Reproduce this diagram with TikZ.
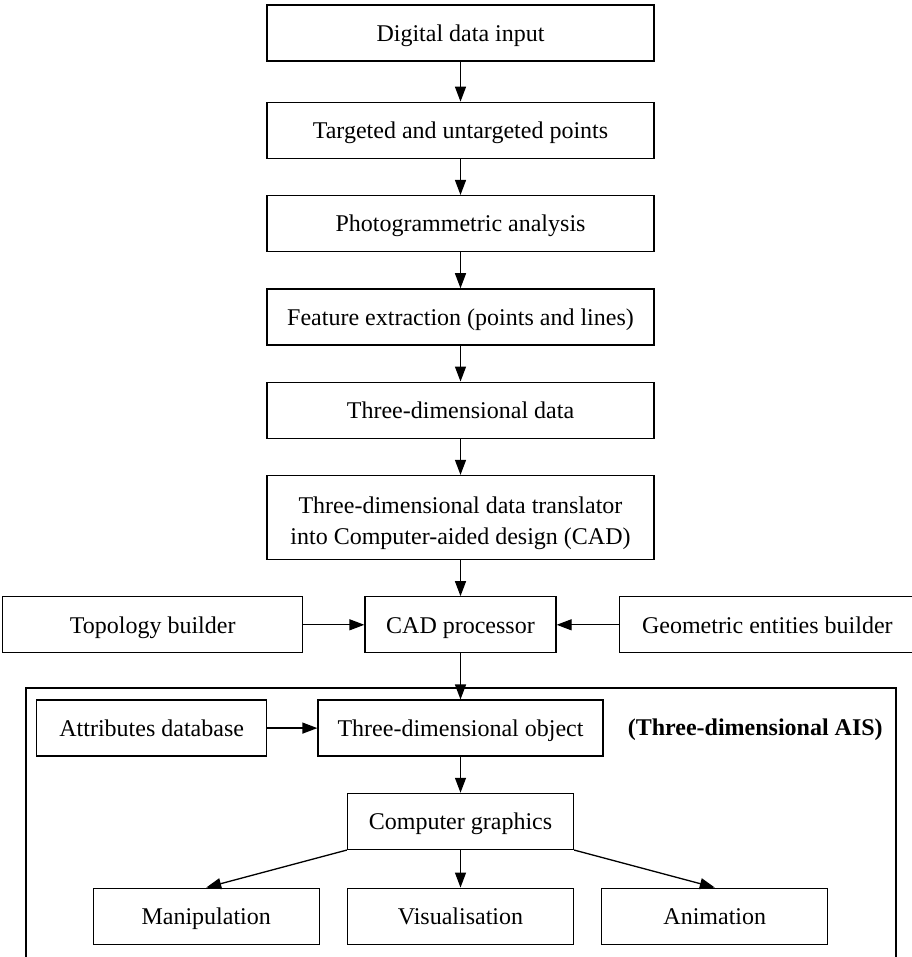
\documentclass[tikz,border=0pt]{standalone}
\usepackage{fontspec}
\setmainfont{Liberation Serif}
\usetikzlibrary{arrows.meta,positioning}

\begin{document}
\begin{tikzpicture}[
      x=1pt,y=-1pt,
      node distance=36pt,
      stagebox/.style={
        draw,
        line width=1.3pt,
        align=center,
        font=\fontsize{24}{31}\selectfont,
        text height=18.5pt,
        text depth=2pt,
        minimum height=56pt,
        inner sep=4pt
      },
      mainbox/.style={stagebox,minimum width=387pt},
      sidebox/.style={stagebox,minimum width=226pt},
      flowarrow/.style={-{Triangle[length=15pt,width=11pt]},line width=1.3pt},
      framebox/.style={line width=1.3pt}
    ]
    \useasboundingbox (0,0) rectangle (911,957);

    % main column
    \node[mainbox] (input) at (460.5,33) {Digital data input};
    \node[mainbox,below=40pt of input] (points) {Targeted and untargeted points};
    \node[mainbox,below=of points] (photo) {Photogrammetric analysis};
    \node[mainbox,below=of photo] (feature) {Feature extraction (points and lines)};
    \node[mainbox,below=of feature] (threed) {Three-dimensional data};
    \node[mainbox,below=of threed,minimum height=84pt,text height=56pt,text depth=2pt] (translator)
      {Three-dimensional data translator\\
       into Computer-aided design (CAD)};

    % CAD row
    \node[stagebox,minimum width=191pt,below=of translator] (cad) {CAD processor};
    \node[stagebox,minimum width=300pt,left=61pt of cad] (topology) {Topology builder};
    \node[stagebox,minimum width=296pt,right=62pt of cad] (geometric) {Geometric entities builder};

    % AIS part
    \node[stagebox,minimum width=285pt,below=46pt of cad] (object) {Three-dimensional object};
    \node[stagebox,minimum width=230pt,left=50pt of object] (attributes) {Attributes database};
    \node[font=\fontsize{24}{31}\selectfont\bfseries,inner sep=0pt,right=24pt of object,yshift=-2pt] (ais)
      {(Three-dimensional AIS)};
    \node[sidebox,below=of object] (graphics) {Computer graphics};
    \node[sidebox,below=37.5pt of graphics] (visual) {Visualisation};
    \node[sidebox,left=27pt of visual] (manip) {Manipulation};
    \node[sidebox,right=27pt of visual] (anim) {Animation};

    \coordinate (frameBL) at (26,962);
    \coordinate (frameTL) at (26,688);
    \coordinate (frameTR) at (896,688);
    \coordinate (frameBR) at (896,962);
    \draw[framebox] (frameBL) -- (frameTL) -- (frameTR) -- (frameBR);

    \draw[flowarrow] (input) -- (points);
    \draw[flowarrow] (points) -- (photo);
    \draw[flowarrow] (photo) -- (feature);
    \draw[flowarrow] (feature) -- (threed);
    \draw[flowarrow] (threed) -- (translator);
    \draw[flowarrow] (translator) -- (cad);
    \draw[flowarrow] (topology) -- (cad);
    \draw[flowarrow] (geometric) -- (cad);
    \draw[flowarrow] (cad) -- (object);
    \draw[flowarrow] (attributes) -- (object);
    \draw[flowarrow] (object) -- (graphics);
    \draw[flowarrow] (graphics.south west) -- (manip.north);
    \draw[flowarrow] (graphics) -- (visual);
    \draw[flowarrow] (graphics.south east) -- (anim.north);
  \end{tikzpicture}
\end{document}
